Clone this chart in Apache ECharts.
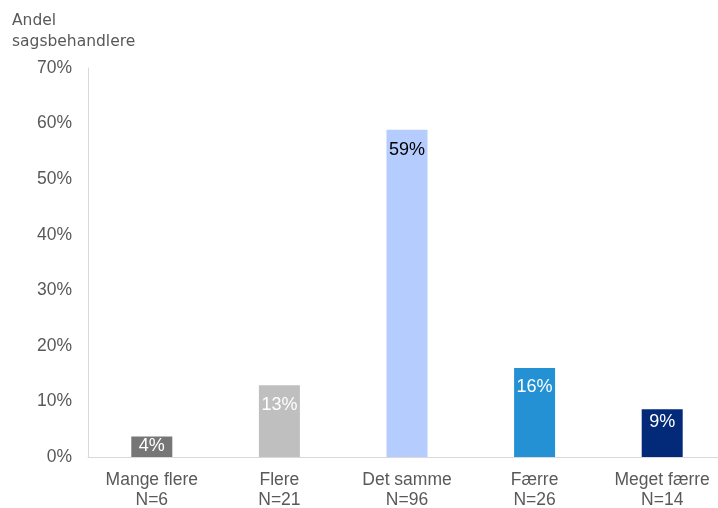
<!DOCTYPE html>
<html><head><meta charset="utf-8">
<script src="https://cdn.jsdelivr.net/npm/echarts@6/dist/echarts.min.js"></script>
<style>html,body{margin:0;padding:0;background:#fff}#c{width:718px;height:508px}</style>
</head><body><div id="c"></div>
<script>
const categories = ['Mange flere\nN=6', 'Flere\nN=21', 'Det samme\nN=96', 'Færre\nN=26', 'Meget færre\nN=14'];
const values = [3.7, 12.9, 58.9, 16.0, 8.6];
const barColors = ['#767676', '#bfbfbf', '#b4ccfe', '#2391d3', '#022a79'];
const labelColors = ['#ffffff', '#ffffff', '#000000', '#ffffff', '#ffffff'];
const labelOffsets = [1, 11, 11, 10, 4];
const yTicks = [0, 10, 20, 30, 40, 50, 60, 70];

const chart = echarts.init(document.getElementById('c'));
chart.setOption({
  animation: false,
  title: {
    text: 'Andel\nsagsbehandlere', left: 7, top: 5,
    textStyle: {fontFamily: 'DejaVu Sans', fontSize: 15.5, fontWeight: 'normal', color: '#595959', lineHeight: 21}
  },
  grid: {left: 88, width: 638, top: 68, bottom: 51, outerBoundsMode: 'none', containLabel: false},
  xAxis: {
    type: 'category', data: categories,
    axisLine: {lineStyle: {color: '#d9d9d9', width: 1}},
    axisTick: {show: false},
    axisLabel: {fontFamily: 'Liberation Sans', fontSize: 17.5, color: '#595959', lineHeight: 20, margin: 13}
  },
  yAxis: {
    type: 'value', min: 0, max: 70, interval: 10,
    axisLine: {show: true, lineStyle: {color: '#d9d9d9'}},
    axisTick: {show: false},
    splitLine: {show: false},
    axisLabel: {fontFamily: 'Liberation Sans', fontSize: 17.5, color: '#595959', margin: 16,
      formatter: v => yTicks.includes(v) ? v + '%' : ''}
  },
  series: [{
    type: 'bar', barWidth: 41,
    data: values.map((v, i) => ({
      value: v,
      itemStyle: {color: barColors[i]},
      label: {color: labelColors[i], distance: labelOffsets[i]}
    })),
    label: {
      show: true, position: 'insideTop',
      fontFamily: 'Liberation Sans', fontSize: 18,
      formatter: p => Math.round(p.value) + '%'
    }
  }]
});
</script></body></html>
